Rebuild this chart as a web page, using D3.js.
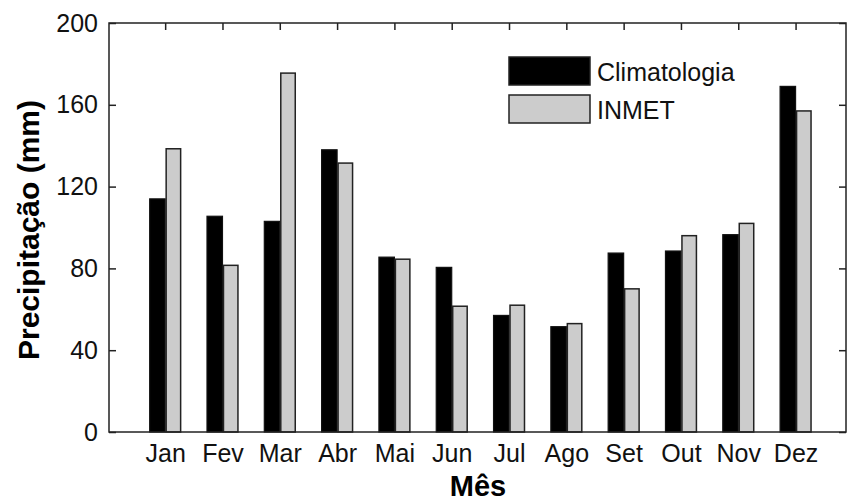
<!DOCTYPE html>
<html>
<head>
<meta charset="utf-8">
<script src="https://cdn.jsdelivr.net/npm/d3@7"></script>
<style>
  body { margin: 0; background: #fff; }
  svg { display: block; font-family: "Liberation Sans", Arial, sans-serif; }
</style>
</head>
<body>
<svg id="chart" width="848" height="502"></svg>
<script>
var months = ["Jan", "Fev", "Mar", "Abr", "Mai", "Jun", "Jul", "Ago", "Set", "Out", "Nov", "Dez"];
var climatologia = [114, 105.5, 103, 138, 85.5, 80.5, 57, 51.5, 87.5, 88.5, 96.5, 169];
var inmet = [138.5, 81.5, 175.5, 131.5, 84.5, 61.5, 62, 53, 70, 96, 102, 157];
var yTicks = [0, 40, 80, 120, 160, 200];
var seriesNames = ["Climatologia", "INMET"];
var seriesColors = ["#000000", "#cccccc"];

var svg = d3.select("#chart");
// plot box (note: "top" is reserved on window, so use a box object)
var box = {left: 109, right: 846, top: 23, bottom: 432};

var x = d3.scaleLinear().domain([0.02, 12.88]).range([box.left, box.right]);
var y = d3.scaleLinear().domain([0, 200]).range([box.bottom, box.top]);
var barW = 0.27;

// bars
var groups = svg.append("g");
months.forEach(function(m, i) {
  var c = i + 1;
  groups.append("rect")
    .attr("x", x(c - barW))
    .attr("y", y(climatologia[i]))
    .attr("width", x(c) - x(c - barW))
    .attr("height", y(0) - y(climatologia[i]))
    .attr("fill", seriesColors[0])
    .attr("stroke", "#111")
    .attr("stroke-width", 1.2);
  groups.append("rect")
    .attr("x", x(c) + 1)
    .attr("y", y(inmet[i]))
    .attr("width", x(c + barW) - x(c) - 1)
    .attr("height", y(0) - y(inmet[i]))
    .attr("fill", seriesColors[1])
    .attr("stroke", "#222")
    .attr("stroke-width", 1.5);
});

// axes with inward ticks
var monthIdx = months.map(function(m, i) { return i + 1; });
var axisStyle = function(g) {
  g.select(".domain").remove();
  g.selectAll(".tick line").attr("stroke", "#222").attr("stroke-width", 1.5);
  g.selectAll("text").attr("fill", "#111").style("font-size", "25px");
};

svg.append("g")
  .attr("transform", "translate(" + box.left + ",0)")
  .call(d3.axisLeft(y).tickValues(yTicks).tickSize(-7).tickPadding(11).tickFormat(d3.format("d")))
  .call(axisStyle);

svg.append("g")
  .attr("transform", "translate(" + box.right + ",0)")
  .call(d3.axisRight(y).tickValues(yTicks).tickSize(-7).tickFormat(""))
  .call(axisStyle);

svg.append("g")
  .attr("transform", "translate(0," + box.top + ")")
  .call(d3.axisTop(x).tickValues(monthIdx).tickSize(-7).tickFormat(""))
  .call(axisStyle);

svg.append("g")
  .attr("transform", "translate(0," + box.bottom + ")")
  .call(d3.axisBottom(x).tickValues(monthIdx).tickSize(0).tickPadding(12)
    .tickFormat(function(d) { return months[d - 1]; }))
  .call(axisStyle);

// frame
svg.append("rect")
  .attr("x", box.left).attr("y", box.top)
  .attr("width", box.right - box.left).attr("height", box.bottom - box.top)
  .attr("fill", "none").attr("stroke", "#222").attr("stroke-width", 1.5);

// legend
var legend = svg.append("g").attr("transform", "translate(509,57)");
seriesNames.forEach(function(name, i) {
  legend.append("rect")
    .attr("x", 0).attr("y", i * 38)
    .attr("width", 81).attr("height", 28)
    .attr("fill", seriesColors[i])
    .attr("stroke", "#222").attr("stroke-width", 1.5);
  legend.append("text")
    .attr("x", 88).attr("y", i * 38 + 24)
    .attr("fill", "#111")
    .style("font-size", "25px")
    .text(name);
});

// axis titles
svg.append("text")
  .attr("transform", "translate(39,230) rotate(-90)")
  .attr("text-anchor", "middle")
  .style("font-size", "30px").style("font-weight", "bold")
  .text("Precipitação (mm)");

svg.append("text")
  .attr("x", 478).attr("y", 496)
  .attr("text-anchor", "middle")
  .style("font-size", "29px").style("font-weight", "bold")
  .text("Mês");
</script>
</body>
</html>
